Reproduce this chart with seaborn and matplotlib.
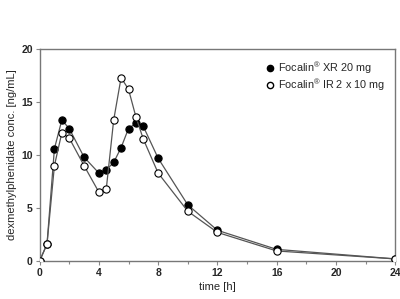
import pandas as pd
import matplotlib
matplotlib.use('Agg')
import matplotlib.pyplot as plt
import seaborn as sns
from matplotlib.lines import Line2D
from matplotlib.ticker import MultipleLocator

time_h = [0, 0.5, 1, 1.5, 2, 3, 4, 4.5, 5, 5.5, 6, 6.5, 7, 8, 10, 12, 16, 24]
xr_conc = [0, 1.6, 10.6, 13.3, 12.5, 9.8, 8.3, 8.6, 9.3, 10.7, 12.5, 13.0, 12.7, 9.7, 5.3, 2.9, 1.1, 0.2]
ir_conc = [0, 1.6, 9.0, 12.1, 11.6, 9.0, 6.5, 6.8, 13.3, 17.3, 16.2, 13.6, 11.5, 8.3, 4.7, 2.7, 0.95, 0.2]
labels = ['Focalin$^{®}$ XR 20 mg', 'Focalin$^{®}$ IR 2 x 10 mg']

df = pd.DataFrame({'time': time_h, 'xr': xr_conc, 'ir': ir_conc})

sns.set_theme(style='white')
plt.rcParams['font.family'] = ['Liberation Sans', 'DejaVu Sans']
plt.rcParams['mathtext.fontset'] = 'custom'
plt.rcParams['mathtext.rm'] = 'Liberation Sans'

fig = plt.figure(figsize=(4, 2.99), dpi=100)
ax = fig.add_axes([0.099, 0.127, 0.889, 0.709])

line_color = '#555555'
sns.lineplot(data=df, x='time', y='ir', ax=ax, color=line_color, lw=0.9,
             marker='o', markersize=5.2, markerfacecolor='white',
             markeredgecolor='black', markeredgewidth=0.8, zorder=3)
sns.lineplot(data=df, x='time', y='xr', ax=ax, color=line_color, lw=0.9,
             marker='o', markersize=5.2, markerfacecolor='black',
             markeredgecolor='black', markeredgewidth=0.8, zorder=2)

ax.set_xlim(0, 24)
ax.set_ylim(0, 20)
ax.xaxis.set_major_locator(MultipleLocator(4))
ax.xaxis.set_minor_locator(MultipleLocator(2))
ax.yaxis.set_major_locator(MultipleLocator(5))
ax.tick_params(axis='both', which='major', direction='out', length=3, width=0.8,
               color='#888888', labelsize=7.5, pad=2, bottom=True, left=True)
ax.tick_params(axis='x', which='minor', direction='out', length=2, width=0.8,
               color='#888888', bottom=True)
for lab in ax.get_xticklabels() + ax.get_yticklabels():
    lab.set_fontweight('bold')

for s in ax.spines.values():
    s.set_color('#777777')
    s.set_linewidth(1.0)

ax.set_xlabel('time [h]', fontsize=8, labelpad=3)
ax.set_ylabel('dexmethylphenidate conc. [ng/mL]', fontsize=8, labelpad=3)

handles = [
    Line2D([], [], ls='none', marker='o', markersize=4.5, markerfacecolor='black',
           markeredgecolor='black'),
    Line2D([], [], ls='none', marker='o', markersize=4.5, markerfacecolor='white',
           markeredgecolor='black'),
]
ax.legend(handles, labels, loc='upper right', bbox_to_anchor=(0.985, 0.97),
          frameon=False, fontsize=7.8, handletextpad=0.3, handlelength=1,
          labelspacing=0.1, borderaxespad=0)

fig.savefig('out.png', dpi=100)
